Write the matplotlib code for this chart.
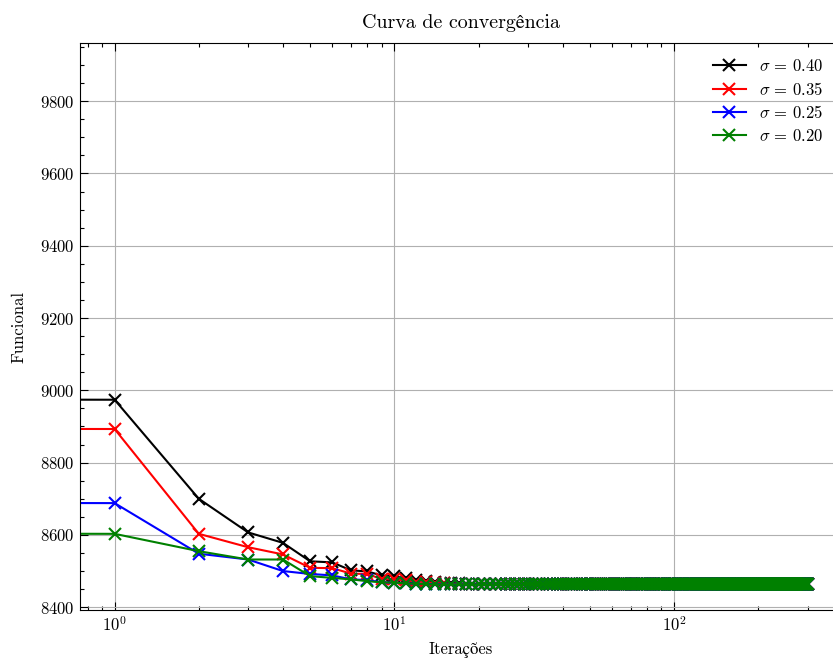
import numpy as np
import matplotlib
matplotlib.use("Agg")
import matplotlib.pyplot as plt

plt.rcParams['font.family'] = ['cmr10', 'STIXGeneral']
plt.rcParams['mathtext.fontset'] = 'cm'
plt.rcParams['axes.formatter.use_mathtext'] = True
plt.rcParams['font.size'] = 12

# functional per iteration (iteration 0 is the initial guess)
iters = np.arange(0, 301)
start = 9890
tail_value = 8463

f_040 = [start, 8974, 8700, 8607, 8578, 8527, 8524, 8502, 8499, 8488, 8486,
         8480, 8476, 8473, 8470, 8468, 8467, 8466, 8465, 8464, 8464]
f_035 = [start, 8893, 8603, 8566, 8546, 8509, 8508, 8493, 8492, 8478, 8477,
         8474, 8471, 8469, 8467, 8466, 8465, 8464, 8464, 8463, 8463]
f_025 = [start, 8688, 8548, 8532, 8500, 8492, 8488, 8477, 8475, 8469, 8468,
         8466, 8465, 8464, 8464, 8463, 8463, 8463, 8463, 8463, 8463]
f_020 = [start, 8603, 8555, 8532, 8532, 8486, 8481, 8477, 8472, 8469, 8468,
         8466, 8465, 8464, 8463, 8463, 8463, 8463, 8463, 8463, 8463]

n_tail = len(iters) - len(f_040)
series = [
    (f_040 + [tail_value] * n_tail, "k", r"$\sigma\,=\,0.40$"),
    (f_035 + [tail_value] * n_tail, "r", r"$\sigma\,=\,0.35$"),
    (f_025 + [tail_value] * n_tail, "b", r"$\sigma\,=\,0.25$"),
    (f_020 + [tail_value] * n_tail, "g", r"$\sigma\,=\,0.20$"),
]

fig = plt.figure(figsize=(8.33, 6.59), dpi=100)
# right spine falls just outside the canvas, as in the original
ax = fig.add_axes([0.096, 0.074, 0.915, 0.861])

for vals, c, lab in series:
    ax.plot(iters, vals, color=c, marker="x", markersize=9, markeredgewidth=1.5,
            linewidth=1.5, label=lab)

ax.set_xscale("log")
ax.yaxis.set_minor_locator(matplotlib.ticker.MultipleLocator(50))

ax.tick_params(which="both", direction="in", top=True, right=False)
ax.tick_params(which="major", length=6, width=0.8)
ax.tick_params(which="minor", length=3, width=0.8)
ax.spines["right"].set_visible(False)
ax.grid(True, which="major", color="#b0b0b0", linewidth=0.8)

ax.set_title("Curva de convergência", pad=11)
ax.set_xlabel("Iterações", labelpad=6)
ax.set_ylabel("Funcional", labelpad=10)
ax.legend(loc="upper right", frameon=False, bbox_to_anchor=(0.995, 1.0),
          labelspacing=0.4)

plt.savefig("out.png")
plt.close()
